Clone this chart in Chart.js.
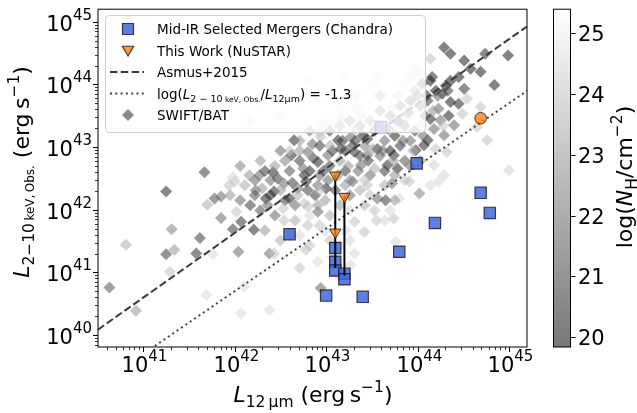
<!DOCTYPE html>
<html>
<head>
<meta charset="utf-8">
<script src="https://cdn.jsdelivr.net/npm/chart.js@4.4.0/dist/chart.umd.min.js"></script>
<style>
  html, body { margin: 0; padding: 0; background: #fff; }
  #wrap { width: 637px; height: 413px; }
</style>
</head>
<body>
<div id="wrap"><canvas id="chart" width="637" height="413"></canvas></div>
<script>
'use strict'

// axis limits (log10) and ticks
const xLogRange = [40.505, 45.197]
const yLogRange = [39.81, 45.2]
const nhRange = [19.84, 25.39]
const xTickExps = [41, 42, 43, 44, 45]
const yTickExps = [40, 41, 42, 43, 44, 45]
const cbTicks = [20, 21, 22, 23, 24, 25]

// SWIFT/BAT AGN (log L12um, log L2-10 obs, log NH)
const batLogL12 = [
  41.25, 40.81, 41.31, 41.25, 41.34, 41.29, 41.62, 41.58, 41.76, 40.63,
  40.92, 41.69, 41.70, 41.78, 41.85, 41.85, 41.94, 42.00, 41.98, 42.04,
  42.02, 42.07, 42.07, 41.67, 41.98, 43.56, 43.51, 43.33, 43.16, 43.33,
  42.17, 42.94, 43.03, 43.16, 43.38, 42.65, 42.85, 42.94, 43.13, 43.27,
  43.45, 42.62, 42.80, 42.42, 42.27, 42.16, 42.91, 43.02, 43.16, 43.31,
  43.45, 43.56, 43.38, 43.53, 42.76, 44.29, 44.36, 44.14, 44.51, 44.74,
  44.99, 44.58, 44.69, 44.84, 44.45, 44.36, 44.31, 44.51, 44.03, 43.92,
  44.05, 44.14, 44.20, 44.27, 44.36, 44.45, 44.54, 44.69, 44.23, 44.49,
  44.34, 44.25, 44.14, 44.18, 44.40, 44.29, 44.11, 44.07, 43.98, 44.20,
  44.32, 44.65, 44.76, 45.00, 44.18, 44.29, 43.74, 43.78, 43.67, 43.98,
  43.85, 43.78, 43.96, 43.71, 43.89, 44.03, 43.78, 44.10, 44.16, 42.23,
  42.34, 42.43, 42.54, 42.60, 42.69, 42.78, 42.91, 43.00, 42.80, 42.91,
  42.76, 42.54, 42.80, 42.21, 43.29, 43.45, 43.56, 43.31, 43.42, 43.55,
  42.38, 42.43, 42.71, 42.78, 42.91, 42.94, 43.31, 42.10, 42.38, 43.07,
  43.13, 43.27, 43.72, 43.91, 44.02, 43.80, 44.14, 44.23, 43.74, 43.76,
  43.65, 42.71, 42.82, 42.93, 43.04, 43.15, 43.21, 43.26, 43.10, 42.99,
  42.88, 42.66, 42.55, 42.50, 42.39, 42.60, 42.71, 42.82, 42.93, 43.04,
  43.15, 43.26, 43.37, 43.48, 43.59, 43.70, 43.81, 43.92, 43.97, 43.86,
  43.75, 43.64, 43.53, 43.42, 43.32, 43.21, 43.37, 43.59, 43.70, 43.81,
  43.92, 43.86, 43.75, 43.64, 43.48, 43.37, 43.26, 43.15, 43.04, 42.93,
  43.21, 43.04, 42.60, 42.50, 42.33, 42.28, 42.44, 42.71, 42.82, 43.15,
  43.42, 43.53, 43.64, 43.75, 43.92, 44.03, 43.97, 44.08, 44.03, 43.59,
  41.84, 42.28, 42.50, 42.71, 42.82, 43.04, 43.21,
  42.22, 42.30, 42.36, 42.47, 42.53, 42.63, 42.69, 42.75, 42.80, 42.86,
  42.91, 42.97, 43.02, 43.07, 43.13, 43.18, 43.24, 43.29, 43.35, 43.40,
  43.46, 43.51, 43.57, 43.62, 43.68, 43.73, 43.79, 43.84, 43.90, 43.95,
  44.00, 44.06, 44.11, 44.17, 44.22, 44.28, 44.33, 42.55, 42.44, 42.33,
  42.22, 42.11, 42.06, 42.17, 42.66, 42.93, 43.21, 43.42, 43.64, 43.86,
  43.26, 43.48, 43.70, 42.82, 42.99, 43.26, 42.39, 42.60, 43.04, 43.32,
  42.93, 42.71, 42.50, 42.28, 42.06, 41.95
]
const batLogLx = [
  42.29, 41.44, 41.69, 41.29, 41.36, 41.01, 41.55, 41.30, 41.29, 40.76,
  40.39, 40.64, 42.08, 42.18, 42.21, 41.87, 42.39, 42.45, 41.69, 41.33,
  41.97, 41.81, 40.35, 42.60, 42.52, 44.12, 44.01, 43.82, 43.61, 43.61,
  43.43, 43.35, 43.40, 43.45, 43.50, 43.11, 43.05, 43.16, 43.11, 43.16,
  43.13, 42.87, 42.92, 42.60, 42.55, 42.55, 42.76, 42.87, 42.97, 42.92,
  42.87, 42.97, 42.71, 42.66, 42.55, 44.59, 44.49, 44.41, 44.38, 44.49,
  44.46, 44.25, 44.20, 43.99, 44.12, 44.06, 43.98, 43.93, 44.17, 44.12,
  44.01, 44.06, 43.90, 43.85, 43.72, 43.69, 43.77, 43.64, 43.61, 43.53,
  43.50, 43.43, 43.45, 43.29, 43.35, 43.19, 43.11, 43.03, 42.95, 42.97,
  42.92, 43.32, 43.11, 42.63, 42.71, 42.55, 42.87, 42.66, 42.71, 44.25,
  44.01, 43.82, 43.72, 43.61, 43.50, 43.35, 43.40, 43.82, 44.12, 42.31,
  42.18, 42.29, 42.42, 42.18, 42.34, 42.45, 42.39, 42.34, 42.05, 41.97,
  42.10, 41.83, 41.75, 41.68, 42.45, 42.39, 42.18, 41.81, 41.65, 41.83,
  41.30, 41.30, 41.07, 41.36, 41.17, 40.75, 41.30, 40.77, 40.40, 41.25,
  40.96, 41.12, 42.42, 42.45, 42.26, 42.18, 42.39, 42.45, 41.86, 41.49,
  42.15, 42.78, 42.62, 42.55, 42.70, 42.78, 42.62, 42.47, 42.31, 42.15,
  42.23, 42.07, 42.15, 42.31, 42.47, 42.62, 42.94, 43.26, 43.02, 43.26,
  43.34, 43.42, 43.34, 43.42, 43.58, 43.50, 43.66, 43.74, 43.90, 43.34,
  43.18, 43.10, 43.26, 43.02, 43.10, 42.94, 42.86, 42.86, 42.94, 43.02,
  43.10, 42.78, 42.55, 42.62, 42.55, 42.31, 42.23, 42.07, 41.91, 41.75,
  41.67, 41.51, 41.59, 41.51, 41.67, 41.99, 41.91, 41.59, 41.43, 41.43,
  42.07, 41.99, 41.83, 42.15, 42.70, 42.78, 43.26, 43.50, 43.66, 43.82,
  43.58, 43.74, 43.50, 43.74, 44.06, 43.82, 44.14,
  42.23, 42.34, 42.07, 42.50, 42.02, 42.43, 42.23, 42.66, 42.31, 42.82,
  42.07, 42.62, 42.47, 42.94, 42.55, 43.10, 42.70, 43.02, 42.62, 43.18,
  42.78, 42.97, 43.34, 42.94, 43.29, 42.78, 43.42, 43.10, 43.55, 42.94,
  43.82, 43.18, 43.74, 43.58, 43.82, 43.34, 43.90, 42.78, 42.70, 42.62,
  42.47, 42.39, 42.15, 42.07, 41.83, 42.31, 42.39, 42.47, 42.39, 42.47,
  41.99, 42.23, 41.99, 41.91, 41.67, 41.51, 42.23, 42.94, 43.02, 43.29,
  43.23, 43.10, 42.94, 42.78, 42.70, 42.23
]
const batLogNH = [
  20.5, 23.5, 22.5, 21, 23, 24, 21, 20.8, 24.5, 21.5,
  23, 24.5, 23.5, 21.5, 22, 22, 24, 24, 21, 22,
  24, 20.8, 24.5, 21, 24.5, 24.5, 24.8, 24.5, 24.6, 24.3,
  24.5, 24.5, 24.8, 24, 24.5, 20.5, 22, 24, 20.5, 22,
  20.5, 20.5, 22, 20.5, 22, 23, 20.5, 22, 20.8, 20.8,
  22, 20.5, 22, 23.5, 20.5, 20.3, 20.3, 24, 20.3, 20.5,
  20.3, 20.3, 20.3, 20.3, 20.3, 20.3, 20.3, 20.8, 24.5, 24.5,
  20.3, 20.3, 20.3, 20.3, 20.3, 20.5, 24, 24, 22, 24,
  20.5, 22, 20.5, 22, 22, 22, 20.5, 20.5, 20.5, 24,
  24, 24, 24, 24.3, 24.3, 24.3, 20.5, 20.5, 20.5, 24.5,
  24.5, 24, 24.5, 24.5, 24, 24.5, 24, 20.5, 20.5, 22,
  20.5, 20.5, 22, 20.5, 22, 20.5, 22, 20.5, 24, 22,
  24, 24, 24, 20.5, 22, 24, 22, 24, 24, 24,
  22, 24, 24, 24, 24.5, 22, 24.5, 24.5, 24.5, 24.5,
  24.5, 24.5, 22, 24, 22.5, 24.5, 24.5, 24.5, 24, 24.5,
  21, 21, 20.5, 22, 21, 23, 21, 22.5, 21, 23,
  21, 22, 21, 23, 22, 21.5, 23, 22, 21, 21,
  22, 21, 20.5, 22, 21, 20.8, 21, 20.5, 22, 21,
  20.5, 22, 21, 22.5, 21, 20.8, 21, 22, 20.5, 21,
  22, 21.5, 23, 21, 22, 23.5, 22, 23, 23.5, 24,
  24.5, 24, 24, 23.5, 23, 21.5, 22, 24.5, 24, 24.5,
  23.5, 24, 24.5, 23, 22, 23, 21, 21, 20.5, 22,
  24.5, 24.7, 24.5, 24.8, 24.8, 24.5, 24.8,
  21.5, 23, 22, 21, 24, 21, 23.5, 22, 21, 21,
  23, 21, 22, 21, 22.5, 21, 23, 21, 22, 20.5,
  21, 23, 21, 22, 21, 23, 20.5, 22, 21, 23.5,
  21, 22, 21, 23, 22, 24, 21, 22.5, 23, 21,
  22, 23.5, 22, 21, 23.5, 24, 23, 24, 23.5, 24,
  24.5, 24, 24.5, 24.5, 24.5, 24.5, 20.5, 24, 23.5, 23.5,
  24, 23, 22, 23, 22.5, 23
]

// Mid-IR selected mergers (Chandra)
const mergerLogL12 = [43.60, 43.99, 44.69, 44.79, 44.19, 43.80, 43.10, 43.10, 43.10, 43.20, 43.20, 43.00, 43.40, 42.60]
const mergerLogLx = [43.32, 42.74, 42.27, 41.95, 41.79, 41.33, 41.39, 41.17, 41.03, 40.98, 40.89, 40.63, 40.61, 41.61]

// This work (NuSTAR): upper limits and one detection
const nustarLimLogL12 = [43.10, 43.20, 43.10]
const nustarLimLogLx = [42.55, 42.21, 41.64]
const nustarDetLogL12 = [44.69]
const nustarDetLogLx = [43.46]

// NuSTAR limit -> Chandra value connectors
const linkLogL12 = [43.10, 43.20]
const linkTopLogLx = [42.55, 42.21]
const linkBottomLogLx = [41.07, 40.95]

// relations
const asmusCoef = [0.33, 0.97] // log(L12/1e43) = a + b log(Lx/1e43)
const ratioOffset = -1.3

const FONT = '"DejaVu Sans", sans-serif'
const BAT_ALPHA = 0.53

const pts = (lx, ly) => lx.map((v, i) => ({ x: 10 ** v, y: 10 ** ly[i] }))

function nhColor(nh) {
  const t = Math.min(1, Math.max(0, (nh - nhRange[0]) / (nhRange[1] - nhRange[0])))
  const g = Math.round(255 * t)
  return `rgba(${g},${g},${g},${BAT_ALPHA})`
}

const asmusLx = (l12) => 43 + (l12 - 43 - asmusCoef[0]) / asmusCoef[1]

// ---- rich text (mathtext-ish) ----
function setFont(ctx, r) {
  ctx.font = (r.it ? 'italic ' : '') + r.s + 'px ' + FONT
}
function runsWidth(ctx, runs) {
  let w = 0
  runs.forEach((r) => {
    setFont(ctx, r)
    w += ctx.measureText(r.t).width
  })
  return w
}
function drawRuns(ctx, runs, x, y, align, angle) {
  ctx.save()
  ctx.translate(x, y)
  if (angle) ctx.rotate(angle)
  const w = runsWidth(ctx, runs)
  let cx = align === 'center' ? -w / 2 : align === 'right' ? -w : 0
  ctx.textAlign = 'left'
  ctx.textBaseline = 'alphabetic'
  ctx.fillStyle = '#000'
  runs.forEach((r) => {
    setFont(ctx, r)
    ctx.fillText(r.t, cx, r.dy || 0)
    cx += ctx.measureText(r.t).width
  })
  ctx.restore()
}
const powRuns = (e) => [{ t: '10', s: 21 }, { t: String(e), s: 15, dy: -11 }]

function logTicks(lo, hi) {
  const out = []
  for (let d = Math.floor(lo); d <= Math.ceil(hi); d++) {
    for (let m = 1; m < 10; m++) {
      const v = Math.log10(m) + d
      if (v >= lo && v <= hi) out.push({ v: 10 ** v, major: m === 1, e: d })
    }
  }
  return out
}

// ---- markers ----
function square(ctx, x, y, h) {
  ctx.beginPath()
  ctx.rect(x - h, y - h, 2 * h, 2 * h)
}
function diamond(ctx, x, y, r) {
  ctx.beginPath()
  ctx.moveTo(x - r, y); ctx.lineTo(x, y - r); ctx.lineTo(x + r, y); ctx.lineTo(x, y + r)
  ctx.closePath()
}
function triDown(ctx, x, y, r) {
  ctx.beginPath()
  ctx.moveTo(x, y + r)
  ctx.lineTo(x - r * 0.866, y - r / 2)
  ctx.lineTo(x + r * 0.866, y - r / 2)
  ctx.closePath()
}

const BLUE = 'rgba(65,105,225,0.85)'
const ORANGE = 'rgba(255,127,14,0.8)'
const EDGE = 'rgba(20,20,20,0.8)'

function drawLegend(ctx) {
  const x0 = 105.5, y0 = 15.5, w = 320, h = 117, rad = 4
  ctx.save()
  ctx.beginPath()
  ctx.roundRect(x0, y0, w, h, rad)
  ctx.fillStyle = 'rgba(255,255,255,0.8)'
  ctx.fill()
  ctx.strokeStyle = '#d0d0d0'
  ctx.lineWidth = 1
  ctx.stroke()

  const mx = 128, tx = 157, rows = [29, 50.5, 72, 93.5, 115]
  // squares
  square(ctx, mx, rows[0], 5.5)
  ctx.fillStyle = BLUE; ctx.fill()
  ctx.strokeStyle = EDGE; ctx.lineWidth = 1.2; ctx.stroke()
  // triangle
  triDown(ctx, mx, rows[1] - 1, 6.5)
  ctx.fillStyle = ORANGE; ctx.fill(); ctx.stroke()
  // dashed
  ctx.beginPath(); ctx.setLineDash([7.5, 3.3]); ctx.lineWidth = 2; ctx.strokeStyle = '#3a3a3a'
  ctx.moveTo(110, rows[2]); ctx.lineTo(144, rows[2]); ctx.stroke()
  // dotted
  ctx.beginPath(); ctx.setLineDash([2, 3.3]); ctx.strokeStyle = '#444'
  ctx.moveTo(110, rows[3]); ctx.lineTo(144, rows[3]); ctx.stroke()
  ctx.setLineDash([])
  // diamond
  diamond(ctx, mx, rows[4], 6)
  ctx.fillStyle = '#8c8c8c'; ctx.fill()
  ctx.restore()

  const s = 13.5, b = 5
  drawRuns(ctx, [{ t: 'Mid-IR Selected Mergers (Chandra)', s }], tx, rows[0] + b, 'left')
  drawRuns(ctx, [{ t: 'This Work (NuSTAR)', s }], tx, rows[1] + b, 'left')
  drawRuns(ctx, [{ t: 'Asmus+2015', s }], tx, rows[2] + b, 'left')
  drawRuns(ctx, [
    { t: 'log(', s }, { t: 'L', s, it: true },
    { t: '2 \u2212 10', s: 9.5, dy: 3 }, { t: ' keV, Obs.', s: 7.5, dy: 3 },
    { t: '/', s }, { t: 'L', s, it: true }, { t: '12\u03bcm', s: 9.5, dy: 3 },
    { t: ') = -1.3', s }
  ], tx, rows[3] + b, 'left')
  drawRuns(ctx, [{ t: 'SWIFT/BAT', s }], tx, rows[4] + b, 'left')
}

const decor = {
  id: 'decor',
  afterDraw(chart) {
    const { ctx, chartArea: a, scales } = chart
    const sx = scales.x, sy = scales.y, sc = scales.cb

    drawLegend(ctx)

    ctx.save()
    ctx.strokeStyle = '#000'
    ctx.lineWidth = 1
    ctx.strokeRect(a.left, a.top, a.right - a.left, a.bottom - a.top)

    // x ticks
    logTicks(xLogRange[0], xLogRange[1]).forEach((tk) => {
      const px = Math.round(sx.getPixelForValue(tk.v)) + 0.5
      ctx.beginPath()
      ctx.lineWidth = tk.major ? 1 : 0.8
      ctx.moveTo(px, a.bottom)
      ctx.lineTo(px, a.bottom + (tk.major ? 5 : 3))
      ctx.stroke()
      if (tk.major && xTickExps.includes(tk.e)) drawRuns(ctx, powRuns(tk.e), px + 1, 372, 'center')
    })
    // y ticks
    logTicks(yLogRange[0], yLogRange[1]).forEach((tk) => {
      const py = Math.round(sy.getPixelForValue(tk.v)) + 0.5
      ctx.beginPath()
      ctx.lineWidth = tk.major ? 1 : 0.8
      ctx.moveTo(a.left, py)
      ctx.lineTo(a.left - (tk.major ? 5 : 3), py)
      ctx.stroke()
      if (tk.major && yTickExps.includes(tk.e)) drawRuns(ctx, powRuns(tk.e), 92, py + 8.5, 'right')
    })

    // axis labels
    drawRuns(ctx, [
      { t: 'L', s: 22, it: true }, { t: '12\u2009\u03bcm', s: 15.5, dy: 5 },
      { t: ' (erg\u2009s', s: 22 }, { t: '\u22121', s: 15.5, dy: -10 }, { t: ')', s: 22 }
    ], 313, 402, 'center')
    drawRuns(ctx, [
      { t: 'L', s: 22, it: true }, { t: '2\u221210', s: 15.5, dy: 5 }, { t: '\u2009keV,\u2009Obs.', s: 12, dy: 5 },
      { t: ' (erg\u2009s', s: 22 }, { t: '\u22121', s: 15.5, dy: -10 }, { t: ')', s: 22 }
    ], 29, 172, 'center', -Math.PI / 2)

    // colorbar
    const cx0 = 553.5, cx1 = 570.5
    const top = sc.getPixelForValue(nhRange[1]), bot = sc.getPixelForValue(nhRange[0])
    const grad = ctx.createLinearGradient(0, bot, 0, top)
    grad.addColorStop(0, nhColor(nhRange[0]))
    grad.addColorStop(1, nhColor(nhRange[1]))
    ctx.fillStyle = '#fff'
    ctx.fillRect(cx0, top, cx1 - cx0, bot - top)
    ctx.fillStyle = grad
    ctx.fillRect(cx0, top, cx1 - cx0, bot - top)
    ctx.lineWidth = 1
    ctx.strokeStyle = '#000'
    ctx.strokeRect(cx0, top, cx1 - cx0, bot - top)
    cbTicks.forEach((v) => {
      const py = Math.round(sc.getPixelForValue(v)) + 0.5
      ctx.beginPath()
      ctx.moveTo(cx1, py)
      ctx.lineTo(cx1 + 5, py)
      ctx.stroke()
      drawRuns(ctx, [{ t: String(v), s: 21 }], 578, py + 7.6, 'left')
    })
    drawRuns(ctx, [
      { t: 'log(', s: 22 }, { t: 'N', s: 22, it: true }, { t: 'H', s: 15.5, dy: 5 },
      { t: '/cm', s: 22 }, { t: '\u22122', s: 15.5, dy: -10 }, { t: ')', s: 22 }
    ], 632, 177, 'center', -Math.PI / 2)
    ctx.restore()
  }
}

const batPoints = pts(batLogL12, batLogLx)
const lineX = [xLogRange[0], xLogRange[1]]

new Chart(document.getElementById('chart'), {
  type: 'scatter',
  data: {
    datasets: [
      {
        label: 'SWIFT/BAT',
        data: batPoints,
        pointStyle: 'rectRot',
        pointRadius: 6,
        pointBackgroundColor: batLogNH.map(nhColor),
        pointBorderWidth: 0,
        clip: 0,
        order: 10
      },
      {
        type: 'line',
        label: 'Asmus+2015',
        data: pts(lineX, lineX.map(asmusLx)),
        borderColor: '#3a3a3a',
        borderWidth: 2,
        borderDash: [7.5, 3.3],
        pointRadius: 0,
        clip: 0,
        order: 9
      },
      {
        type: 'line',
        label: 'ratio',
        data: pts(lineX, lineX.map((v) => v + ratioOffset)),
        borderColor: '#444',
        borderWidth: 2,
        borderDash: [2, 3.3],
        pointRadius: 0,
        clip: 0,
        order: 8
      },
      {
        label: 'Mid-IR Selected Mergers (Chandra)',
        data: pts(mergerLogL12, mergerLogLx),
        pointStyle: 'rect',
        pointRadius: 8,
        pointBackgroundColor: BLUE,
        pointBorderColor: EDGE,
        pointBorderWidth: 1.2,
        clip: 0,
        order: 6
      },
      ...linkLogL12.map((lx, i) => ({
        type: 'line',
        label: 'link' + i,
        data: pts([lx, lx], [linkTopLogLx[i], linkBottomLogLx[i]]),
        borderColor: '#000',
        borderWidth: 2,
        pointRadius: 0,
        clip: 0,
        order: 5
      })),
      {
        label: 'This Work (NuSTAR)',
        data: pts(nustarLimLogL12, nustarLimLogLx),
        pointStyle: 'triangle',
        rotation: 180,
        pointRadius: 6.5,
        pointBackgroundColor: ORANGE,
        pointBorderColor: EDGE,
        pointBorderWidth: 1,
        clip: 0,
        order: 3
      },
      {
        label: 'NuSTAR detection',
        data: pts(nustarDetLogL12, nustarDetLogLx),
        pointStyle: 'circle',
        pointRadius: 5.8,
        pointBackgroundColor: ORANGE,
        pointBorderColor: EDGE,
        pointBorderWidth: 1,
        clip: 0,
        order: 2
      }
    ]
  },
  options: {
    responsive: false,
    animation: false,
    devicePixelRatio: 1,
    layout: { padding: { left: 98, top: 8, right: 110, bottom: 66 } },
    scales: {
      x: { type: 'logarithmic', min: 10 ** xLogRange[0], max: 10 ** xLogRange[1], display: false },
      y: { type: 'logarithmic', min: 10 ** yLogRange[0], max: 10 ** yLogRange[1], display: false },
      cb: { type: 'linear', axis: 'y', min: nhRange[0], max: nhRange[1], display: false }
    },
    plugins: {
      legend: { display: false },
      tooltip: { enabled: false }
    }
  },
  plugins: [decor]
})
</script>
</body>
</html>
